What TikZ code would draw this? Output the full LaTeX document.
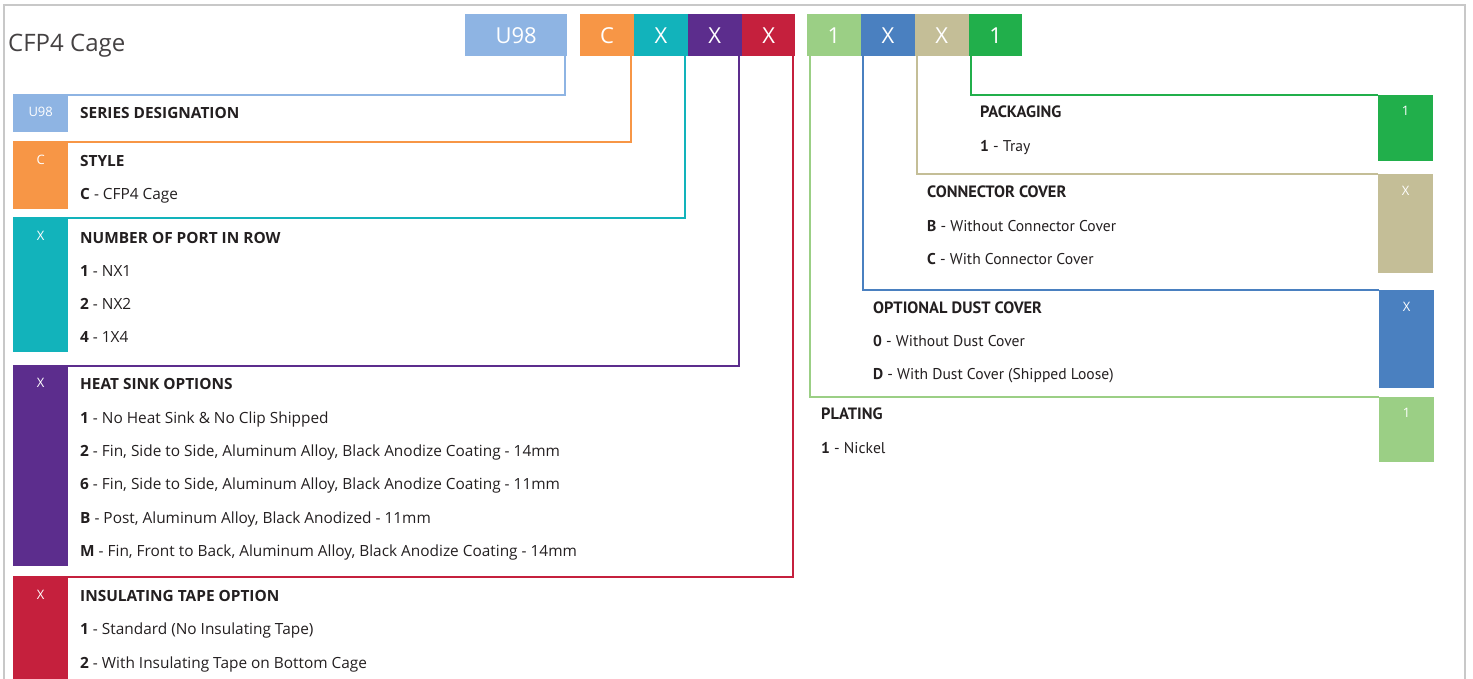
\documentclass[tikz,border=0pt]{standalone}
\usepackage{fontspec}
\setmainfont{Open Sans}
\newfontfamily\narrowfont{PT Sans}
\usetikzlibrary{positioning}

\definecolor{cU}{HTML}{8EB4E3}
\definecolor{cC}{HTML}{F79646}
\definecolor{cN}{HTML}{12B3BB}
\definecolor{cH}{HTML}{5C2D8D}
\definecolor{cI}{HTML}{C5203D}
\definecolor{cP}{HTML}{9BCF85}
\definecolor{cD}{HTML}{4A80C0}
\definecolor{cK}{HTML}{C4BE97}
\definecolor{cQ}{HTML}{21AF4B}
\definecolor{darktext}{HTML}{231F20}
\definecolor{framegray}{HTML}{C8C8C8}

\tikzset{
  code/.style={fill=#1, text=white, minimum width=53.5pt, minimum height=42pt,
    inner sep=0pt, font=\fontsize{22}{22}\selectfont},
  tag/.style={fill=#1, anchor=north west, minimum width=55pt, inner sep=0pt},
  tagtxt/.style={text=white, inner sep=0pt, font=\fontsize{13}{13}\selectfont},
  head/.style={anchor=west, inner sep=0pt, text=darktext, text height=13pt, text depth=0pt,
    font=\fontsize{15.4}{15.4}\selectfont\bfseries},
  item/.style={anchor=west, inner sep=0pt, text=darktext, text height=13pt, text depth=0pt,
    font=\fontsize{15.4}{15.4}\selectfont},
  rhead/.style={head, font=\fontsize{16.4}{16.4}\selectfont\narrowfont\bfseries},
  ritem/.style={item, font=\fontsize{15.6}{15.6}\selectfont\narrowfont},
  link/.style={draw=#1, line width=2pt},
}

\begin{document}
\begin{tikzpicture}[x=1pt, y=-1pt]
\useasboundingbox (0,0) rectangle (1473,679);
\draw[framegray, line width=2.5pt] (4,679) |- (1465,5) -- (1465,679);

\node[anchor=west, inner sep=0pt, text=darktext!85, font=\fontsize{24}{24}\selectfont] (title) at (8,46) {CFP4 Cage};

% part number boxes
\node[code=cU, anchor=north west, minimum width=102pt] (codeU) at (465,14) {U98};
\node[code=cC, anchor=north west] (codeC) at (580,14) {C};
\node[code=cN, right=0pt of codeC] (codeN) {X};
\node[code=cH, right=0pt of codeN] (codeH) {X};
\node[code=cI, right=0pt of codeH] (codeI) {X};
\node[code=cP, anchor=north west] (codeP) at (807,14) {1};
\node[code=cD, right=0pt of codeP] (codeD) {X};
\node[code=cK, right=0pt of codeD] (codeK) {X};
\node[code=cQ, right=0pt of codeK] (codeQ) {1};

% colour tags, left
\node[tag=cU, minimum height=37pt] (tagU) at (13,95) {};
\node[tag=cC, minimum height=67pt] (tagC) at (13,142) {};
\node[tag=cN, minimum height=134pt] (tagN) at (13,218) {};
\node[tag=cH, minimum height=200pt] (tagH) at (13,366) {};
\node[tag=cI, minimum height=102pt] (tagI) at (13,577) {};
% colour tags, right
\node[tag=cQ, minimum height=66pt] (tagQ) at (1378,95) {};
\node[tag=cK, minimum height=99pt] (tagK) at (1378,174) {};
\node[tag=cD, minimum height=98pt] (tagD) at (1379,290) {};
\node[tag=cP, minimum height=65pt] (tagP) at (1379,397) {};

\node[tagtxt] (tagU-l) at ([yshift=-17pt]tagU.north) {U98};
\node[tagtxt] (tagC-l) at ([yshift=-18pt]tagC.north) {C};
\node[tagtxt] (tagN-l) at ([yshift=-18pt]tagN.north) {X};
\node[tagtxt] (tagH-l) at ([yshift=-17pt]tagH.north) {X};
\node[tagtxt] (tagI-l) at ([yshift=-18pt]tagI.north) {X};
\node[tagtxt] (tagQ-l) at ([yshift=-16pt]tagQ.north) {1};
\node[tagtxt] (tagK-l) at ([yshift=-17pt]tagK.north) {X};
\node[tagtxt] (tagD-l) at ([yshift=-17pt]tagD.north) {X};
\node[tagtxt] (tagP-l) at ([yshift=-16pt]tagP.north) {1};

% leader lines
\draw[link=cU] ([xshift=-2pt]codeU.south east) |- (tagU.north west);
\draw[link=cC] ([xshift=-3pt]codeC.south east) |- (tagC.north west);
\draw[link=cN] ([xshift=-3pt]codeN.south east) |- (tagN.north west);
\draw[link=cH] ([xshift=-3pt]codeH.south east) |- (tagH.north west);
\draw[link=cI] ([xshift=-3pt]codeI.south east) |- (tagI.north west);
\draw[link=cQ] ([xshift=2pt]codeQ.south west) |- (tagQ.north west);
\draw[link=cK] ([xshift=2pt]codeK.south west) |- (tagK.north west);
\draw[link=cD] ([xshift=2pt]codeD.south west) |- (tagD.north west);
\draw[link=cP] ([xshift=3pt]codeP.south west) |- (tagP.north west);

% left descriptions
\node[head] (hU) at (80,112) {SERIES DESIGNATION};
\node[head] (hC) at (80,160) {STYLE};
\node[item] (iC1) at (80,193) {\textbf{C} - CFP4 Cage};
\node[head] (hN) at (80,237) {NUMBER OF PORT IN ROW};
\node[item] (iN1) at (80,270) {\textbf{1} - NX1};
\node[item] (iN2) at (80,303) {\textbf{2} - NX2};
\node[item] (iN3) at (80,336) {\textbf{4} - 1X4};
\node[head] (hH) at (80,383) {HEAT SINK OPTIONS};
\node[item] (iH1) at (80,417) {\textbf{1} - No Heat Sink \& No Clip Shipped};
\node[item] (iH2) at (80,450) {\textbf{2} - Fin, Side to Side, Aluminum Alloy, Black Anodize Coating - 14mm};
\node[item] (iH3) at (80,483) {\textbf{6} - Fin, Side to Side, Aluminum Alloy, Black Anodize Coating - 11mm};
\node[item] (iH4) at (80,517) {\textbf{B} - Post, Aluminum Alloy, Black Anodized - 11mm};
\node[item] (iH5) at (80,550) {\textbf{M} - Fin, Front to Back, Aluminum Alloy, Black Anodize Coating - 14mm};
\node[head] (hI) at (80,595) {INSULATING TAPE OPTION};
\node[item] (iI1) at (80,628) {\textbf{1} - Standard (No Insulating Tape)};
\node[item] (iI2) at (80,662) {\textbf{2} - With Insulating Tape on Bottom Cage};

% right descriptions
\node[rhead] (hQ) at (980,111) {PACKAGING};
\node[ritem] (iQ1) at (980,145) {\textbf{1} - Tray};
\node[rhead] (hK) at (927,191) {CONNECTOR COVER};
\node[ritem] (iK1) at (927,225) {\textbf{B} - Without Connector Cover};
\node[ritem] (iK2) at (927,258) {\textbf{C} - With Connector Cover};
\node[rhead] (hD) at (873,307) {OPTIONAL DUST COVER};
\node[ritem] (iD1) at (873,340) {\textbf{0} - Without Dust Cover};
\node[ritem] (iD2) at (873,373) {\textbf{D} - With Dust Cover (Shipped Loose)};
\node[rhead] (hP) at (821,413) {PLATING};
\node[ritem] (iP1) at (821,447) {\textbf{1} - Nickel};
\end{tikzpicture}
\end{document}
